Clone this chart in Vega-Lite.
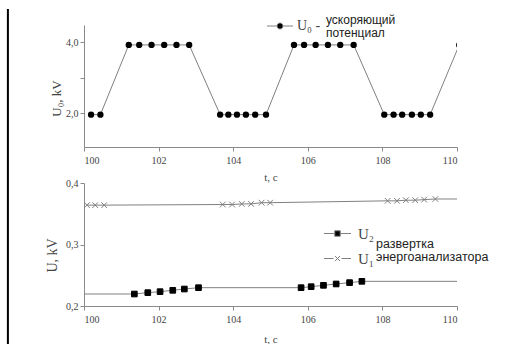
{
  "$schema": "https://vega.github.io/schema/vega-lite/v6.json",
  "background": "white",
  "padding": {"left": 6, "top": 5, "right": 0, "bottom": 0},
  "config": {
    "view": {"stroke": null},
    "axis": {"domainColor": "#8a8a8a", "tickColor": "#8a8a8a", "labelFont": "Liberation Serif", "labelFontSize": 10, "labelColor": "#444", "titleFont": "Liberation Serif", "titleFontWeight": "normal", "titleColor": "#444", "grid": false, "tickSize": 4, "labelPadding": 2},
    "legend": {"padding": 0}
  },
  "spacing": 36,
  "bounds": "flush",
  "datasets": {
    "u0": [
      {"t": 100.19, "U0": 1.96}, {"t": 100.44, "U0": 1.96},
      {"t": 101.2, "U0": 3.92}, {"t": 101.48, "U0": 3.92}, {"t": 101.81, "U0": 3.92}, {"t": 102.15, "U0": 3.92}, {"t": 102.48, "U0": 3.92}, {"t": 102.82, "U0": 3.92},
      {"t": 103.65, "U0": 1.96}, {"t": 103.87, "U0": 1.96}, {"t": 104.1, "U0": 1.96}, {"t": 104.34, "U0": 1.96}, {"t": 104.59, "U0": 1.96}, {"t": 104.88, "U0": 1.96},
      {"t": 105.63, "U0": 3.92}, {"t": 105.9, "U0": 3.92}, {"t": 106.21, "U0": 3.92}, {"t": 106.54, "U0": 3.92}, {"t": 106.87, "U0": 3.92}, {"t": 107.23, "U0": 3.92},
      {"t": 108.05, "U0": 1.96}, {"t": 108.3, "U0": 1.96}, {"t": 108.53, "U0": 1.96}, {"t": 108.79, "U0": 1.96}, {"t": 109.03, "U0": 1.96}, {"t": 109.28, "U0": 1.96},
      {"t": 110.06, "U0": 3.92}
    ],
    "u12": [
      {"t": 99.5, "v": 0.2195, "s": "U2"},
      {"t": 101.35, "v": 0.2195, "s": "U2"}, {"t": 101.71, "v": 0.2217, "s": "U2"}, {"t": 102.04, "v": 0.2233, "s": "U2"}, {"t": 102.38, "v": 0.2255, "s": "U2"}, {"t": 102.69, "v": 0.2276, "s": "U2"}, {"t": 103.07, "v": 0.2298, "s": "U2"},
      {"t": 105.82, "v": 0.2298, "s": "U2"}, {"t": 106.09, "v": 0.2314, "s": "U2"}, {"t": 106.42, "v": 0.2336, "s": "U2"}, {"t": 106.76, "v": 0.2358, "s": "U2"}, {"t": 107.12, "v": 0.238, "s": "U2"}, {"t": 107.45, "v": 0.2401, "s": "U2"},
      {"t": 110.5, "v": 0.2401, "s": "U2"},
      {"t": 100.08, "v": 0.364, "s": "U1"}, {"t": 100.3, "v": 0.364, "s": "U1"}, {"t": 100.54, "v": 0.364, "s": "U1"},
      {"t": 103.72, "v": 0.365, "s": "U1"}, {"t": 103.97, "v": 0.365, "s": "U1"}, {"t": 104.23, "v": 0.366, "s": "U1"}, {"t": 104.48, "v": 0.366, "s": "U1"}, {"t": 104.76, "v": 0.368, "s": "U1"}, {"t": 104.99, "v": 0.368, "s": "U1"},
      {"t": 108.14, "v": 0.371, "s": "U1"}, {"t": 108.39, "v": 0.371, "s": "U1"}, {"t": 108.63, "v": 0.372, "s": "U1"}, {"t": 108.88, "v": 0.372, "s": "U1"}, {"t": 109.12, "v": 0.373, "s": "U1"}, {"t": 109.42, "v": 0.374, "s": "U1"},
      {"t": 110.5, "v": 0.374, "s": "U1"}
    ]
  },
  "vconcat": [
    {
      "width": 373,
      "height": 122,
      "data": {"name": "u0"},
      "layer": [
        {
          "mark": {"type": "line", "color": "#808080", "strokeWidth": 1, "clip": true},
          "encoding": {
            "x": {"field": "t", "type": "quantitative", "scale": {"domain": [100, 110], "nice": false},
              "axis": {"values": [100, 101, 102, 103, 104, 105, 106, 107, 108, 109, 110], "format": "d", "labelExpr": "datum.value % 2 == 0 ? datum.label : ''", "tickSize": {"condition": {"test": "datum.value % 2 == 0", "value": 4}, "value": 3}, "labelPadding": 4, "title": "t, c", "titleFontSize": 11, "titlePadding": 6}},
            "y": {"field": "U0", "type": "quantitative", "scale": {"domain": [1.05, 4.48], "nice": false, "zero": false},
              "axis": {"values": [2, 3, 4], "labelExpr": "datum.value == 3 ? '' : replace(format(datum.value, '.1f'), '.', ',')", "title": "U₀, kV", "titleFontSize": 13, "titleX": -28, "titleY": 73, "titleAngle": -90, "titleAlign": "center", "titleBaseline": "middle"}}
          }
        },
        {
          "mark": {"type": "point", "filled": true, "clip": true, "size": 40, "opacity": 1, "color": "black"},
          "encoding": {
            "x": {"field": "t", "type": "quantitative"},
            "y": {"field": "U0", "type": "quantitative"}
          }
        },
        {
          "data": {"values": []},
          "mark": {"type": "point", "filled": true, "opacity": 1, "stroke": "#808080", "strokeWidth": 1,
            "shape": "M-2.6,0L-0.7,0M0.7,0L2.6,0M-0.6,0A0.6,0.6,0,1,0,0.6,0A0.6,0.6,0,1,0,-0.6,0Z"},
          "encoding": {
            "color": {"datum": "U₀ -", "scale": {"range": ["black"]},
              "legend": {
                "orient": "none", "legendX": 189, "legendY": -6,
                "title": ["ускоряющий", "потенциал"], "titleOrient": "right", "titleAnchor": "middle", "titleBaseline": "middle", "titleAlign": "left",
                "titleFont": "Liberation Sans", "titleFontSize": 12, "titleFontWeight": "normal", "titleColor": "#222", "titleLineHeight": 13, "titlePadding": 6,
                "labelFont": "Liberation Serif", "labelFontSize": 14, "labelColor": "#444", "labelOffset": 10,
                "symbolSize": 100, "symbolStrokeColor": "#808080", "symbolStrokeWidth": 1, "symbolOpacity": 1
              }}
          }
        }
      ]
    },
    {
      "width": 373,
      "height": 123,
      "data": {"name": "u12"},
      "resolve": {"scale": {"color": "independent"}},
      "layer": [
        {
          "mark": {"type": "line", "color": "#808080", "strokeWidth": 1, "clip": true},
          "encoding": {
            "x": {"field": "t", "type": "quantitative", "scale": {"domain": [100, 110], "nice": false},
              "axis": {"values": [100, 101, 102, 103, 104, 105, 106, 107, 108, 109, 110], "format": "d", "labelExpr": "datum.value % 2 == 0 ? datum.label : ''", "tickSize": {"condition": {"test": "datum.value % 2 == 0", "value": 4}, "value": 3}, "labelPadding": 4, "title": "t, c", "titleFontSize": 11, "titlePadding": 9}},
            "y": {"field": "v", "type": "quantitative", "scale": {"domain": [0.2, 0.4], "nice": false, "zero": false},
              "axis": {"values": [0.2, 0.225, 0.25, 0.275, 0.3, 0.325, 0.35, 0.375, 0.4], "labelExpr": "abs(datum.value * 10 - round(datum.value * 10)) < 0.01 ? replace(format(datum.value, '.1f'), '.', ',') : ''", "tickSize": {"condition": {"test": "abs(datum.value * 10 - round(datum.value * 10)) < 0.01", "value": 4}, "value": 2}, "title": "U, kV", "titleFontSize": 14, "titleX": -32, "titleY": 72, "titleAngle": -90, "titleAlign": "center", "titleBaseline": "middle"}},
            "detail": {"field": "s"}
          }
        },
        {
          "mark": {"type": "point", "clip": true, "size": 32, "opacity": 1, "strokeWidth": 1},
          "encoding": {
            "x": {"field": "t", "type": "quantitative"},
            "y": {"field": "v", "type": "quantitative"},
            "shape": {"field": "s", "type": "nominal", "scale": {"domain": ["U2", "U1"], "range": ["square", "M-1,-1L1,1M-1,1L1,-1"]}, "legend": null},
            "fill": {"field": "s", "type": "nominal", "scale": {"domain": ["U2", "U1"], "range": ["black", "transparent"]}, "legend": null},
            "stroke": {"field": "s", "type": "nominal", "scale": {"domain": ["U2", "U1"], "range": ["black", "#808080"]}, "legend": null}
          }
        },
        {
          "data": {"values": []},
          "mark": {"type": "point", "filled": true, "opacity": 1, "stroke": "#808080", "strokeWidth": 1,
            "shape": "M-2.7,0L-0.7,0M0.7,0L2.7,0M-0.55,-0.55L0.55,-0.55L0.55,0.55L-0.55,0.55Z"},
          "encoding": {
            "color": {"datum": "U₂", "scale": {"range": ["black"]},
              "legend": {
                "orient": "none", "legendX": 246, "legendY": 43,
                "title": ["", "развертка"], "titleOrient": "right", "titleAnchor": "start", "titleBaseline": "top", "titleAlign": "left",
                "titleFont": "Liberation Sans", "titleFontSize": 12.5, "titleFontWeight": "normal", "titleColor": "#222", "titleLineHeight": 11.5, "titlePadding": 2,
                "labelFont": "Liberation Serif", "labelFontSize": 15, "labelColor": "#444", "labelOffset": 13,
                "symbolSize": 100, "symbolStrokeColor": "#808080", "symbolStrokeWidth": 1, "symbolOpacity": 1
              }}
          }
        },
        {
          "data": {"values": []},
          "mark": {"type": "point", "filled": true, "opacity": 1, "stroke": "#808080", "strokeWidth": 1,
            "shape": "M-2.7,0L-0.8,0M0.8,0L2.7,0M-0.5,-0.5L0.5,0.5M-0.5,0.5L0.5,-0.5"},
          "encoding": {
            "color": {"datum": "U₁", "scale": {"range": ["transparent"]},
              "legend": {
                "orient": "none", "legendX": 246, "legendY": 68,
                "title": "энергоанализатора", "titleOrient": "right", "titleAnchor": "start", "titleBaseline": "top", "titleAlign": "left",
                "titleFont": "Liberation Sans", "titleFontSize": 12.5, "titleFontWeight": "normal", "titleColor": "#222", "titleLineHeight": 12, "titlePadding": 2,
                "labelFont": "Liberation Serif", "labelFontSize": 15, "labelColor": "#444", "labelOffset": 13,
                "symbolSize": 100, "symbolStrokeColor": "#808080", "symbolStrokeWidth": 1, "symbolOpacity": 1
              }}
          }
        },
        {
          "data": {"values": [{}]},
          "mark": {"type": "rule", "color": "black", "strokeWidth": 2, "clip": false},
          "encoding": {
            "x": {"datum": 97.96},
            "y": {"datum": 0.683},
            "y2": {"datum": 0.12}
          }
        },
        {
          "data": {"values": [{}]},
          "mark": {"type": "rule", "color": "white", "strokeWidth": 1, "strokeOpacity": 0, "clip": false},
          "encoding": {
            "x": {"datum": 97.96},
            "y": {"datum": 0.6894},
            "y2": {"datum": 0.683}
          }
        }
      ]
    }
  ]
}
